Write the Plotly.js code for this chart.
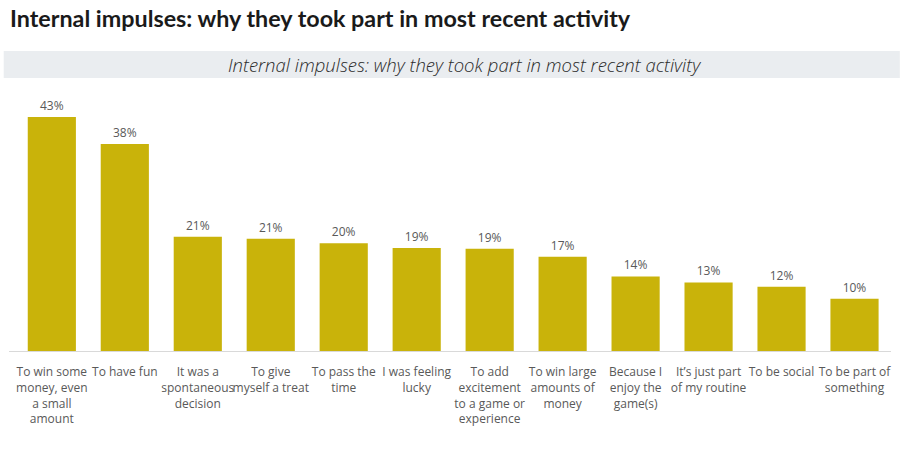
<!DOCTYPE html>
<html>
<head>
<meta charset="utf-8">
<script src="https://cdn.plot.ly/plotly-3.0.1.min.js"></script>
<style>html,body{margin:0;padding:0;background:#fff;}#chart{width:907px;height:464px;}</style>
</head>
<body>
<div id="chart"></div>
<script>
const categories = [
  "To win some<br>money, even<br>a small<br>amount",
  "To have fun",
  "It was a<br>spontaneous<br>decision",
  "To give<br>myself a treat",
  "To pass the<br>time",
  "I was feeling<br>lucky",
  "To add<br>excitement<br>to a game or<br>experience",
  "To win large<br>amounts of<br>money",
  "Because I<br>enjoy the<br>game(s)",
  "It’s just part<br>of my routine",
  "To be social",
  "To be part of<br>something"
];
const values = [43, 38, 21, 20.6, 19.8, 18.9, 18.8, 17.3, 13.7, 12.6, 11.8, 9.6];
const mainTitle = "Internal impulses: why they took part in most recent activity";
const subTitle = "Internal impulses: why they took part in most recent activity";

const trace = {
  type: "bar",
  x: categories.map((c, i) => i),
  y: values,
  marker: {color: "#C9B30A"},
  width: 0.66,
  text: values.map(v => Math.round(v) + "%"),
  textposition: "outside",
  cliponaxis: false,
  textfont: {family: "Open Sans", size: 12, color: "#595959"},
  hoverinfo: "none"
};

const layout = {
  width: 907, height: 464,
  margin: {l: 9, r: 16, t: 106, b: 113},
  paper_bgcolor: "#fff", plot_bgcolor: "#fff",
  showlegend: false,
  annotations: [{
    text: "<b>" + mainTitle + "</b>",
    xref: "paper", yref: "paper",
    x: -0.001, xanchor: "left",
    y: (464 - 113 - 18) / 245, yanchor: "middle",
    showarrow: false,
    font: {family: "Lato", size: 23.3, color: "#1a1a1a"}
  }, {
    text: subTitle,
    xref: "paper", yref: "paper",
    x: (464 - 9) / 882, xanchor: "center",
    y: (464 - 113 - 64.5) / 245, yanchor: "middle",
    showarrow: false,
    font: {family: "Open Sans", size: 18.5, color: "#2b2b2b", style: "italic", weight: 300}
  }],
  xaxis: {
    range: [-0.587, 11.5],
    tickmode: "array",
    tickvals: categories.map((c, i) => i),
    ticktext: categories,
    tickangle: 0,
    ticks: "",
    ticklabelstandoff: 10,
    showgrid: false,
    zeroline: false,
    showline: true, linecolor: "#D9D9D9", linewidth: 1,
    tickfont: {family: "Open Sans", size: 12, color: "#595959"},
    fixedrange: true
  },
  yaxis: {
    range: [0, 45],
    visible: false,
    showgrid: false,
    zeroline: false,
    fixedrange: true
  },
  shapes: [{
    type: "rect", xref: "paper", yref: "paper",
    x0: -0.006, x1: 1.01, y0: (464 - 113 - 78) / 245, y1: (464 - 113 - 51) / 245,
    fillcolor: "#EAEDF0", line: {width: 0}, layer: "below"
  }]
};

Plotly.newPlot("chart", [trace], layout, {displayModeBar: false, staticPlot: true});
</script>
</body>
</html>
